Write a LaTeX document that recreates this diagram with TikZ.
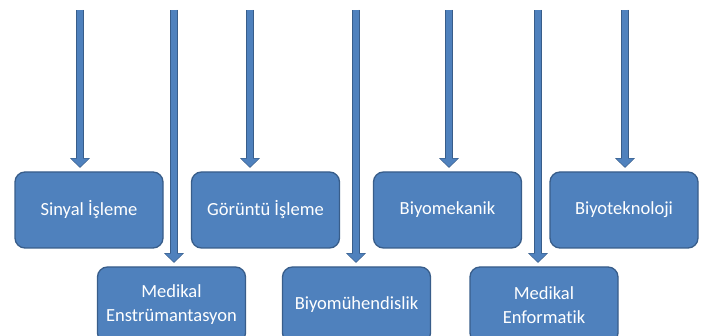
\documentclass[tikz,border=0pt]{standalone}
\usepackage{fontspec}
\setmainfont{Carlito}[Ligatures=NoCommon]
\usetikzlibrary{arrows.meta}
\definecolor{boxfill}{HTML}{4F81BD}
\definecolor{boxedge}{HTML}{385D8A}
\tikzset{
  area/.style={draw=boxedge, fill=boxfill, line width=1.3pt, rounded corners=10pt,
    minimum width=148pt, minimum height=76pt, text=white, align=center,
    font=\fontsize{18.5}{24}\selectfont, inner sep=2pt},
  fatarrow/.style={draw=boxfill, line width=5.6pt, shorten >=4.6pt,
    -{Triangle[width=17pt,length=8pt,line width=0.1pt]},
    preaction={draw=boxedge, line width=7.4pt, shorten >=3.6pt,
      -{Triangle[width=19.5pt,length=9.6pt,line width=0.1pt]}}}
}
\begin{document}
\begin{tikzpicture}[x=1pt,y=-1pt]
\useasboundingbox (0,0) rectangle (710,336);
\begin{scope}
\clip (0,0) rectangle (710,336);
\node[area] (sin) at (89,210) {Sinyal İşleme};
\node[area] (gor) at (265.5,210) {Görüntü İşleme};
\node[area] (bmk) at (447.5,210) {Biyomekanik};
\node[area] (btk) at (624,210) {Biyoteknoloji};
\node[area] (mei) at (171.5,305) {Medikal\\Enstrümantasyon};
\node[area] (bmh) at (356.5,305) {Biyomühendislik};
\node[area] (mef) at (544,305) {Medikal\\Enformatik};
\coordinate (t1) at (80,10);
\coordinate (t2) at (174,10);
\coordinate (t3) at (250,10);
\coordinate (t4) at (356,10);
\coordinate (t5) at (449,10);
\coordinate (t6) at (538,10);
\coordinate (t7) at (625,10);
\draw[fatarrow] (t1) -- (t1 |- sin.north);
\draw[fatarrow] (t2) -- (t2 |- mei.north);
\draw[fatarrow] (t3) -- (t3 |- gor.north);
\draw[fatarrow] (t4) -- (t4 |- bmh.north);
\draw[fatarrow] (t5) -- (t5 |- bmk.north);
\draw[fatarrow] (t6) -- (t6 |- mef.north);
\draw[fatarrow] (t7) -- (t7 |- btk.north);
\end{scope}
\end{tikzpicture}
\end{document}
